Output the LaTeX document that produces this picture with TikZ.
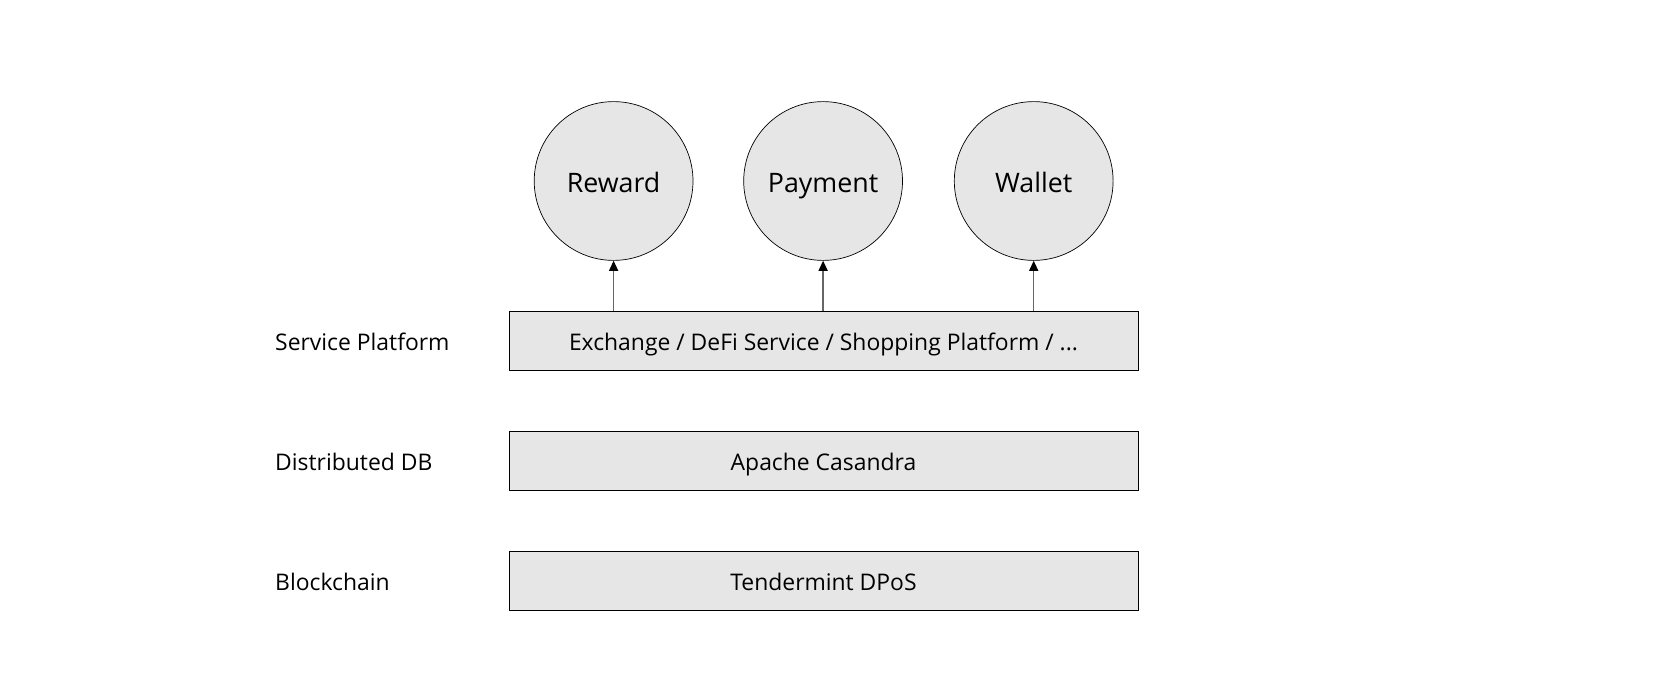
\documentclass[tikz,border=0pt]{standalone}
\usepackage{fontspec}
\setmainfont{Open Sans}
\usetikzlibrary{arrows.meta}
\definecolor{fillgray}{HTML}{E6E6E6}
\definecolor{linegray}{HTML}{666666}
\begin{document}
\begin{tikzpicture}[x=1pt,y=-1pt,
  circ/.style={circle,draw=black,line width=0.7pt,fill=fillgray,minimum size=158.8pt,inner sep=0pt,text height=22.6pt,text depth=0pt,font=\fontsize{26.8}{32}\selectfont},
  layer/.style={rectangle,draw=black,line width=0.9pt,fill=fillgray,minimum width=629pt,minimum height=59pt,inner sep=0pt,text height=20pt,text depth=0pt,font=\fontsize{22.9}{27}\selectfont},
  lbl/.style={anchor=west,inner sep=0pt,text height=20pt,text depth=0pt,font=\fontsize{22.9}{27}\selectfont},
  conn/.style={draw=linegray,line width=1.3pt,-{Triangle[length=10pt,width=9pt,fill=black,color=black]}}]
\useasboundingbox (0,0) rectangle (1659,690);
\node[circ] (reward) at (613.6,181) {Reward};
\node[circ] (payment) at (823.1,181) {Payment};
\node[circ] (wallet) at (1033.7,181) {Wallet};
\node[layer] (svc) at (823.5,340.5) {Exchange / DeFi Service / Shopping Platform / ...};
\node[layer] (db) at (823.5,460.5) {Apache Casandra};
\node[layer] (bc) at (823.5,580.5) {Tendermint DPoS};
\node[lbl] (lsvc) at (275,340.5) {Service Platform};
\node[lbl] (ldb) at (275,460.5) {Distributed DB};
\node[lbl] (lbc) at (275,580.5) {Blockchain};
\draw[conn] (svc.north -| reward) -- (reward.south);
\draw[conn] (svc.north -| payment) -- (payment.south);
\draw[conn] (svc.north -| wallet) -- (wallet.south);
\end{tikzpicture}
\end{document}
